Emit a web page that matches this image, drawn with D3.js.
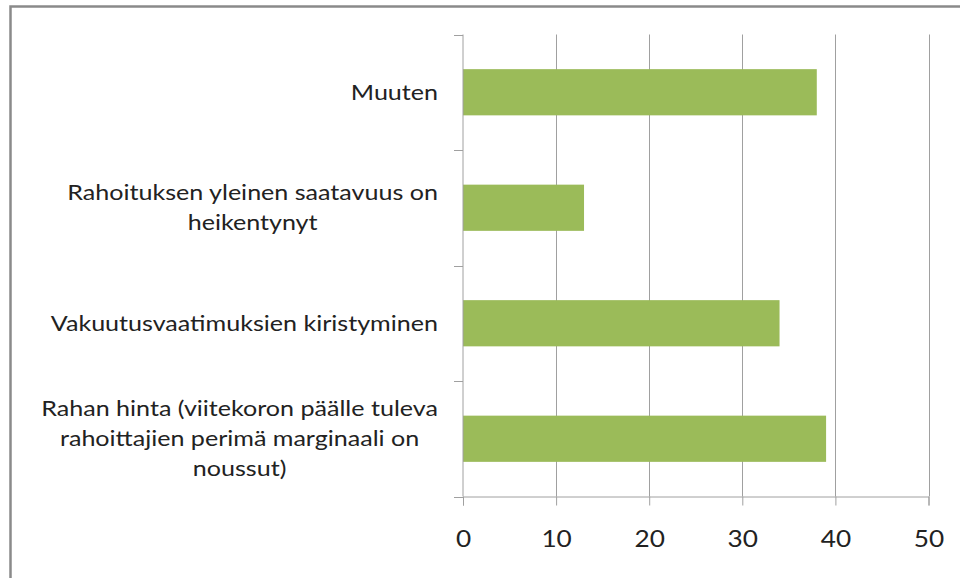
<!DOCTYPE html>
<html><head><meta charset="utf-8">
<script src="https://cdnjs.cloudflare.com/ajax/libs/d3/7.8.5/d3.min.js"></script>
<style>
html,body{margin:0;padding:0;background:#fff;}
svg{display:block;}
</style></head>
<body>
<svg id="chart" width="960" height="578"></svg>
<script>
const categories = [
  "Muuten",
  "Rahoituksen yleinen saatavuus on\nheikentynyt",
  "Vakuutusvaatimuksien kiristyminen",
  "Rahan hinta (viitekoron päälle tuleva\nrahoittajien perimä marginaali on\nnoussut)"
];
const values = [38, 13, 34, 39];
const xTicks = [0, 10, 20, 30, 40, 50];

const svg = d3.select("#chart");
const W = 960, H = 578;
const margin = {left: 463, top: 34.5, right: 31.5, bottom: 81.5};
const FONT = "Lato, 'Open Sans', sans-serif";
const gridColor = "#a0a0a0";
const SX = 1.14;

// outer frame
svg.append("rect").attr("x", 10.5).attr("y", 6.5).attr("width", 980).attr("height", 600)
  .attr("fill", "none").attr("stroke", "#8a8a8a").attr("stroke-width", 2.5);

const x = d3.scaleLinear().domain([0, 50]).range([margin.left, W - margin.right]);
const y = d3.scaleBand().domain(categories).range([margin.top, H - margin.bottom]).padding(0);

// gridlines
svg.append("g").selectAll("line").data(xTicks.slice(1)).join("line")
  .attr("x1", d => Math.round(x(d)) + 0.5).attr("x2", d => Math.round(x(d)) + 0.5)
  .attr("y1", margin.top).attr("y2", H - margin.bottom)
  .attr("stroke", gridColor).attr("stroke-width", 1);

// bars
const barH = y.bandwidth() * 0.4;
svg.append("g").selectAll("rect").data(categories).join("rect")
  .attr("x", x(0))
  .attr("y", d => y(d) + (y.bandwidth() - barH) / 2)
  .attr("width", (d, i) => x(values[i]) - x(0))
  .attr("height", barH)
  .attr("fill", "#9bbb59");

// x axis
const xAxis = d3.axisBottom(x).tickValues(xTicks).tickSize(9).tickPadding(25)
  .tickFormat(d3.format("d"));
const gx = svg.append("g").attr("transform", `translate(0,${H - margin.bottom})`).call(xAxis);
gx.select(".domain").attr("stroke", gridColor);
gx.selectAll(".tick line").attr("stroke", gridColor);
gx.selectAll(".tick text").attr("fill", "#222").style("font-family", FONT).style("font-size", "23px")
  .attr("transform", `scale(${SX},1)`);

// y axis line and ticks at band boundaries
svg.append("line").attr("x1", x(0)).attr("x2", x(0)).attr("y1", margin.top).attr("y2", H - margin.bottom)
  .attr("stroke", gridColor);
const bounds = categories.map(c => y(c)).concat([H - margin.bottom]);
svg.append("g").selectAll("line").data(bounds).join("line")
  .attr("x1", x(0) - 9).attr("x2", x(0))
  .attr("y1", d => Math.round(d) + 0.5).attr("y2", d => Math.round(d) + 0.5)
  .attr("stroke", gridColor);

// category labels: block right-aligned, lines centered within block
const lineH = 30;
const labels = svg.append("g").style("font-family", FONT).style("font-size", "22px").attr("fill", "#222");
categories.forEach(c => {
  const lines = c.split("\n");
  const g = labels.append("g");
  const texts = lines.map((ln, i) => g.append("text").text(ln)
    .attr("y", y(c) + y.bandwidth() / 2 + (i - (lines.length - 1) / 2) * lineH)
    .attr("dy", "0.35em").attr("text-anchor", "middle"));
  const maxW = d3.max(texts, t => t.node().getComputedTextLength()) * SX;
  const cx = 438 - maxW / 2;
  g.attr("transform", `translate(${cx},0) scale(${SX},1)`);
});
</script>
</body></html>
